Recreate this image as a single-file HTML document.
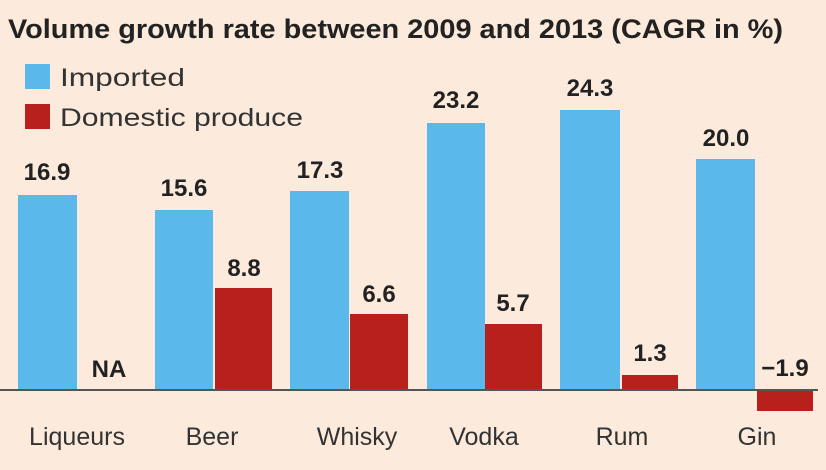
<!DOCTYPE html>
<html><head><meta charset="utf-8"><style>
body{margin:0;width:826px;height:465px;background:#fcebdc;overflow:hidden;font-family:"Liberation Sans",sans-serif;}
</style></head><body>
<svg width="826" height="465" xmlns="http://www.w3.org/2000/svg">
<rect width="826" height="465" fill="#fcebdc"/>
<text x="8" y="38" font-size="27" font-weight="bold" fill="#222" textLength="775" lengthAdjust="spacingAndGlyphs">Volume growth rate between 2009 and 2013 (CAGR in %)</text>
<rect x="25" y="64" width="25" height="25" fill="#5bb8ea"/>
<text x="60" y="86" font-size="25" fill="#333" textLength="125" lengthAdjust="spacingAndGlyphs">Imported</text>
<rect x="25" y="104" width="25" height="25" fill="#b8201c"/>
<text x="60" y="126" font-size="25" fill="#333" textLength="243" lengthAdjust="spacingAndGlyphs">Domestic produce</text>
<g fill="#5bb8ea">
<rect x="18" y="195" width="59" height="195"/>
<rect x="155" y="210" width="58" height="180"/>
<rect x="290" y="191" width="59" height="199"/>
<rect x="427" y="123" width="58" height="267"/>
<rect x="560" y="110" width="60" height="280"/>
<rect x="696" y="159" width="59" height="231"/>
</g>
<g fill="#b8201c">
<rect x="215" y="288" width="57" height="102"/>
<rect x="350" y="314" width="58" height="76"/>
<rect x="485" y="324" width="57" height="66"/>
<rect x="622" y="375" width="56" height="15"/>
<rect x="757" y="390" width="56" height="21"/>
</g>
<line x1="0" y1="390" x2="818" y2="390" stroke="#555" stroke-width="2"/>
<g font-size="24" font-weight="bold" fill="#222" text-anchor="middle">
<text x="47" y="180">16.9</text>
<text x="184" y="196">15.6</text>
<text x="244" y="276">8.8</text>
<text x="320" y="178">17.3</text>
<text x="379" y="302">6.6</text>
<text x="456" y="108">23.2</text>
<text x="513" y="311">5.7</text>
<text x="590" y="96">24.3</text>
<text x="650" y="361">1.3</text>
<text x="726" y="146">20.0</text>
<text x="785" y="376">−1.9</text>
<text x="109" y="377">NA</text>
</g>
<g font-size="25" fill="#333" text-anchor="middle">
<text x="77" y="445">Liqueurs</text>
<text x="212" y="445">Beer</text>
<text x="357" y="445">Whisky</text>
<text x="484" y="445">Vodka</text>
<text x="622" y="445">Rum</text>
<text x="757" y="445">Gin</text>
</g>
</svg>
</body></html>
